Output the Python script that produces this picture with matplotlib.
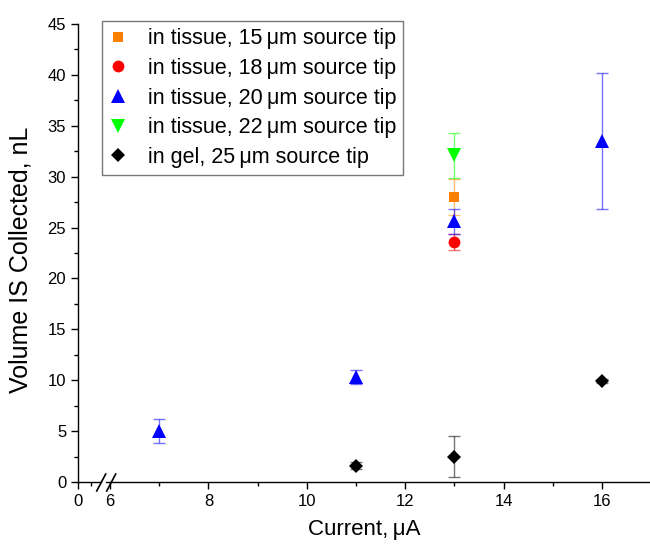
import matplotlib
matplotlib.use("Agg")
import matplotlib.pyplot as plt
from matplotlib.lines import Line2D
from matplotlib.ticker import MultipleLocator

plt.rcParams["font.family"] = ["Liberation Sans", "DejaVu Sans"]

# data
x15 = [13]
y15 = [28.0]
e15 = [1.8]

x18 = [13]
y18 = [23.6]
e18 = [0.8]

x20 = [7, 11, 13, 16]
y20 = [5.0, 10.3, 25.6, 33.5]
e20 = [1.2, 0.7, 1.2, 6.7]

x22 = [13]
y22 = [32.1]
e22 = [2.2]

xgel = [11, 13, 16]
ygel = [1.6, 2.5, 9.9]
egel = [0.35, 2.05, 0.2]

series = [
    (x15, y15, e15, "s", 7, "#ff8000", "in tissue, 15\u2009\u03bcm source tip"),
    (x18, y18, e18, "o", 8.5, "#ff0000", "in tissue, 18\u2009\u03bcm source tip"),
    (x20, y20, e20, "^", 10, "#0000ff", "in tissue, 20\u2009\u03bcm source tip"),
    (x22, y22, e22, "v", 10, "#00ff00", "in tissue, 22\u2009\u03bcm source tip"),
    (xgel, ygel, egel, "D", 6.8, "#000000", "in gel, 25\u2009\u03bcm source tip"),
]

W, H = 650, 552
fig = plt.figure(figsize=(6.5, 5.52), dpi=100)
bot = (H - 482) / H
hgt = (482 - 24) / H
axl = fig.add_axes([78 / W, bot, 23 / W, hgt])
axr = fig.add_axes([106 / W, bot, 544 / W, hgt], sharey=axl)

axl.set_xlim(0, 0.9)
axr.set_xlim(6 - 4 / 49.2, 6 + 540 / 49.2)
axl.set_ylim(0, 45)

for ax in (axl, axr):
    ax.spines["top"].set_visible(False)
    ax.spines["right"].set_visible(False)
    ax.spines["bottom"].set_linewidth(1.0)
    ax.spines["left"].set_linewidth(1.0)
    ax.tick_params(direction="out", which="major", length=5, width=1.0, labelsize=12)
    ax.tick_params(direction="out", which="minor", length=3, width=1.0)
    ax.patch.set_visible(False)

axl.xaxis.set_major_locator(MultipleLocator(1))
axl.xaxis.set_minor_locator(MultipleLocator(0.5))
axl.yaxis.set_major_locator(MultipleLocator(5))
axl.yaxis.set_minor_locator(MultipleLocator(2.5))

axr.spines["left"].set_visible(False)
axr.tick_params(axis="y", which="both", left=False, labelleft=False)
axr.xaxis.set_major_locator(MultipleLocator(2))
axr.xaxis.set_minor_locator(MultipleLocator(1))

for x, y, e, m, ms, c, lab in series:
    axr.errorbar(x, y, yerr=e, fmt="none", ecolor=c, alpha=0.55,
                 elinewidth=1.0, capsize=4, capthick=1.0)
for x, y, e, m, ms, c, lab in series:
    axr.plot(x, y, linestyle="none", marker=m, markersize=ms, color=c,
             markeredgewidth=0, label=lab)

axl.set_ylabel("Volume IS Collected, nL", fontsize=18)
axl.yaxis.set_label_coords(-2.0, 0.485)
fig.text((78 + 650) / 2 / W, 1 - 530 / H, "Current,\u2009\u03bcA", fontsize=16,
         ha="center", va="center")

# axis break marks
for x0 in (96.7, 106.7):
    fig.add_artist(Line2D([x0 / W, (x0 + 9) / W], [1 - 491 / H, 1 - 474 / H],
                          transform=fig.transFigure, color="black", lw=1.2))

leg = fig.legend(loc="upper left", bbox_to_anchor=(102 / W, 1 - 21 / H),
                 borderaxespad=0, fontsize=15.5, frameon=True, fancybox=False,
                 handlelength=0.78, handletextpad=1.0, labelspacing=0.4,
                 borderpad=0.34)
leg.get_frame().set_edgecolor("#555555")
leg.get_frame().set_linewidth(1.0)

fig.savefig("out.png", dpi=100)
